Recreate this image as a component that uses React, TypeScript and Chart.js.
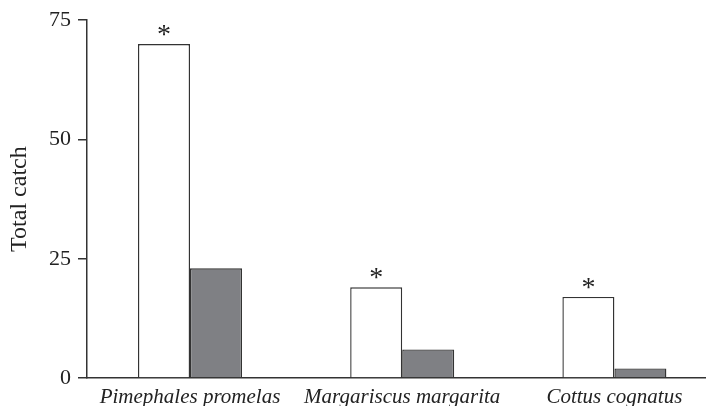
import React, { useEffect, useRef } from "react";
import { Chart, registerables } from "chart.js";

Chart.register(...registerables);

const categories = ["Pimephales promelas", "Margariscus margarita", "Cottus cognatus"];
const whiteSeries = [70, 19, 17];
const graySeries = [23, 6, 2];
const significant = [true, true, true];
const yTicks = [0, 25, 50, 75];

const FONT = '"Liberation Serif", "Times New Roman", serif';

const asteriskPlugin = {
  id: "asterisks",
  afterDatasetsDraw(chart: any) {
    const meta = chart.getDatasetMeta(0);
    const ctx = chart.ctx;
    ctx.save();
    ctx.font = `28px ${FONT}`;
    ctx.fillStyle = "#222";
    ctx.textAlign = "center";
    ctx.textBaseline = "alphabetic";
    meta.data.forEach((bar: any, i: number) => {
      if (!significant[i]) return;
      ctx.fillText("*", bar.x, bar.y - 1);
    });
    ctx.restore();
  },
};

export default function App() {
  const ref = useRef<HTMLCanvasElement | null>(null);

  useEffect(() => {
    document.body.style.margin = "0";
    if (!ref.current) return;
    const spacing = 212.2;
    const chart = new Chart(ref.current, {
      type: "bar",
      data: {
        datasets: [
          {
            label: "Series A",
            data: categories.map((_, i) => ({ x: i + 1, y: whiteSeries[i] })),
            backgroundColor: "#ffffff",
            borderColor: "#333333",
            borderWidth: 1.4,
          },
          {
            label: "Series B",
            data: categories.map((_, i) => ({ x: i + 1, y: graySeries[i] })),
            backgroundColor: "#7f8084",
            borderColor: "#333333",
            borderWidth: 1.4,
          },
        ],
      },
      options: {
        responsive: false,
        animation: false,
        layout: { padding: { top: 18, left: 0, right: 0, bottom: 0 } },
        datasets: {
          bar: { barPercentage: 1, categoryPercentage: 104 / spacing },
        },
        plugins: {
          legend: { display: false },
          tooltip: { enabled: false },
        },
        scales: {
          x: {
            type: "linear",
            offset: false,
            min: 1 - 103 / spacing,
            max: 1 + 516 / spacing,
            afterBuildTicks: (scale: any) => {
              scale.ticks = categories.map((_, i) => ({ value: i + 1 }));
            },
            afterFit: (scale: any) => {
              scale.height = 28;
            },
            grid: { display: true, offset: false, drawOnChartArea: false, drawTicks: false, color: "#333" },
            border: { display: true, color: "#333", width: 1.5 },
            ticks: {
              padding: 7,
              color: "#222",
              maxRotation: 0,
              autoSkip: false,
              font: { family: FONT, size: 21, style: "italic" },
              callback: (v: any) => categories[Math.round(v) - 1] ?? "",
            },
          },
          y: {
            min: 0,
            max: 75,
            afterBuildTicks: (scale: any) => {
              scale.ticks = yTicks.map((v) => ({ value: v }));
            },
            afterFit: (scale: any) => {
              scale.width = 87;
            },
            grid: { display: true, drawOnChartArea: false, drawTicks: true, tickLength: 9, color: "#333", lineWidth: 1.5 },
            border: { display: true, color: "#333", width: 1.5 },
            ticks: {
              padding: 7,
              color: "#222",
              font: { family: FONT, size: 22 },
            },
            title: {
              display: true,
              text: "Total catch",
              color: "#222",
              font: { family: FONT, size: 24 },
              padding: { top: 5, bottom: 0 },
            },
          },
        },
      },
      plugins: [asteriskPlugin],
    } as any);
    return () => chart.destroy();
  }, []);

  return (
    <div style={{ width: 706, height: 406, background: "#fff" }}>
      <canvas ref={ref} width={706} height={406} />
    </div>
  );
}
